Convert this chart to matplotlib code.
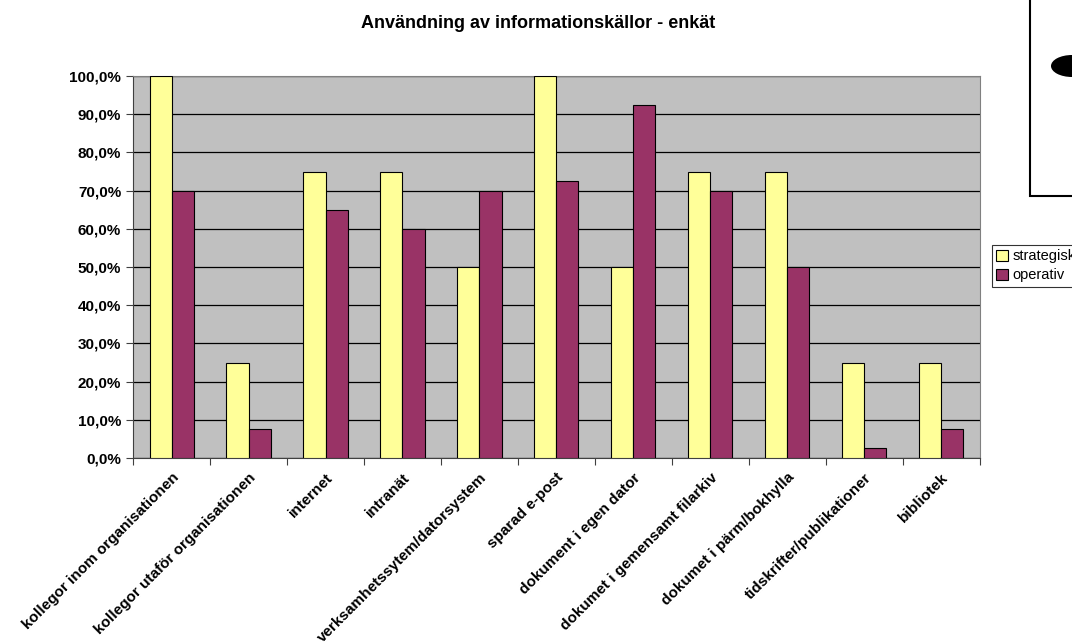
import numpy as np
import matplotlib
matplotlib.use("Agg")
import matplotlib.pyplot as plt
from matplotlib.patches import Rectangle, Ellipse
from matplotlib.ticker import FuncFormatter, FixedLocator

plt.rcParams["font.family"] = ["Liberation Sans", "DejaVu Sans"]

kategorier = ["kollegor inom organisationen", "kollegor utaför organisationen", "internet",
              "intranät", "verksamhetssytem/datorsystem", "sparad e-post", "dokument i egen dator",
              "dokumet i gemensamt filarkiv", "dokumet i pärm/bokhylla",
              "tidskrifter/publikationer", "bibliotek"]
strategisk = [100, 25, 75, 75, 50, 100, 50, 75, 75, 25, 25]
operativ = [70, 7.5, 65, 60, 70, 72.5, 92.5, 70, 50, 2.5, 7.5]

fig = plt.figure(figsize=(10.72, 6.43), dpi=100)
ax = fig.add_axes([0.1241, 0.2877, 0.790, 0.594])
ax.set_facecolor("#C0C0C0")

x = np.arange(len(kategorier))
w = 0.286
ax.bar(x - w / 2, strategisk, w, color="#FFFF99", edgecolor="black", linewidth=0.8, zorder=3, label="strategisk")
ax.bar(x + w / 2, operativ, w, color="#993366", edgecolor="black", linewidth=0.8, zorder=3, label="operativ")

ax.set_xlim(-0.5, len(kategorier) - 0.5)
ax.set_ylim(0, 100)
ax.yaxis.set_major_locator(FixedLocator(np.arange(0, 101, 10)))
ax.yaxis.set_major_formatter(FuncFormatter(lambda v, p: f"{v:.1f}%".replace(".", ",")))
ax.grid(axis="y", color="black", linewidth=0.9, zorder=1)
ax.set_axisbelow(True)

ax.set_xticks(np.arange(-0.5, len(kategorier), 1))
ax.set_xticklabels([])
ax.set_xticks(x, minor=True)
ax.set_xticklabels(kategorier, minor=True, rotation=45, ha="right", va="top", rotation_mode="anchor",
                   fontsize=11, fontweight="bold")
ax.tick_params(axis="x", which="minor", length=0, pad=9)
ax.tick_params(axis="x", which="major", length=5, color="#404040")
ax.tick_params(axis="y", length=5, labelsize=11, color="#404040")
for t in ax.get_yticklabels():
    t.set_fontweight("bold")

for s in ["top", "right"]:
    ax.spines[s].set_color("#808080")
for s in ["left", "bottom"]:
    ax.spines[s].set_color("#404040")

fig.text(0.502, 0.963, "Användning av informationskällor - enkät", ha="center", va="center",
         fontsize=13, fontweight="bold")

# ramen uppe till höger
fig.patches.append(Rectangle((1030 / 1072, 1 - 196 / 643), 0.1, 0.4, transform=fig.transFigure,
                             facecolor="white", edgecolor="black", linewidth=1.5))
fig.patches.append(Ellipse((1072 / 1072, 1 - 66 / 643), 42 / 1072, 22 / 643, transform=fig.transFigure,
                           facecolor="black", edgecolor="none"))

leg = fig.legend(loc="upper left", bbox_to_anchor=(992 / 1072, 1 - 245 / 643), frameon=True,
                 fancybox=False, edgecolor="black", fontsize=10.5, handlelength=0.8, handleheight=0.8,
                 handletextpad=0.3, borderpad=0.3, labelspacing=0.35, borderaxespad=0)
leg.get_frame().set_linewidth(0.8)

fig.savefig("out.png", dpi=100)
